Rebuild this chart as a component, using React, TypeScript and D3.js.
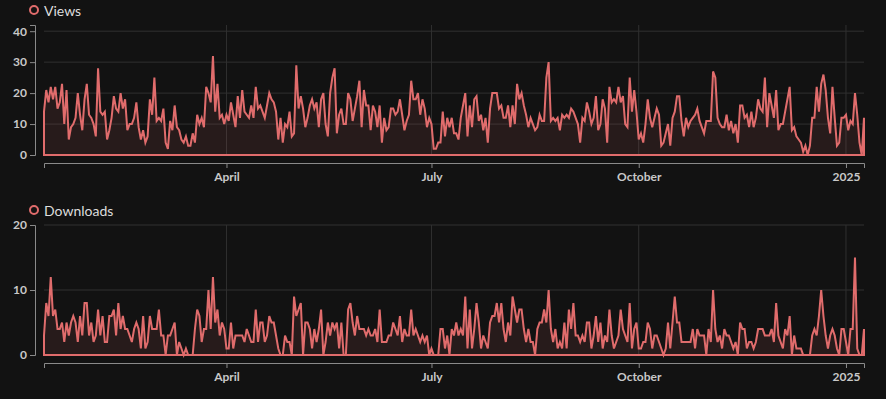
import { useEffect, useRef } from "react";
import * as d3 from "d3";

// daily series, first day 2024-01-11
const startDate = new Date(2024, 0, 11);

const views = [
  14, 21, 17, 22, 18, 22, 15, 17, 23, 10, 21, 5, 9, 10, 12, 20, 13, 8, 18, 23,
  13, 12, 10, 6, 28, 14, 13, 14, 5, 8, 12, 19, 15, 14, 20, 15, 18, 8, 10, 10,
  12, 17, 9, 5, 8, 4, 6, 18, 13, 25, 11, 12, 11, 15, 4, 2, 11, 8, 16, 9,
  8, 5, 4, 6, 3, 3, 7, 4, 13, 10, 12, 9, 22, 20, 17, 32, 14, 23, 12, 13,
  10,
  13, 11, 17, 13, 9, 19, 12, 21, 14, 13, 12, 16, 12, 22, 15, 16, 14, 12, 16, 20,
  18, 17, 14, 5, 12, 4, 10, 9, 14, 6, 7, 29, 15, 19, 15, 9, 12, 16, 18, 15,
  17, 9, 18, 20, 10, 6, 20, 25, 28, 7, 13, 15, 10, 10, 20, 18, 11, 15, 19, 24,
  9, 21, 16, 16, 8, 16, 14, 9, 16, 4, 12, 8, 9, 15, 15, 13, 14, 18, 13, 8,
  11, 13, 24, 18, 18, 20, 13, 18, 15, 9, 12,
  10, 2, 2, 4, 4, 14, 6, 12, 9, 12, 7, 7, 5, 12, 16, 20, 6, 16, 9, 18,
  19, 11, 13, 8, 12, 4, 15, 20, 20, 20, 15, 16, 12, 12, 16, 9, 16, 10, 23, 18,
  20, 16, 13, 9, 12, 10, 8, 9, 13, 11, 11, 25, 30, 11, 12, 11, 12, 8, 13, 12,
  13, 12, 15, 14, 12, 10, 4, 12, 11, 17, 14, 10, 12, 19, 8, 10, 18, 15, 4, 22,
  17, 18, 17, 22, 17, 19, 10, 9, 25, 14, 21, 14, 5,
  7, 4, 10, 18, 12, 9, 12, 15, 13, 3, 4, 7, 10, 3, 12, 14, 19, 19, 11, 6,
  12, 9, 11, 12, 13, 15, 11, 9, 7, 11, 11, 11, 27, 25, 12, 10, 9, 9, 13, 8,
  11, 7, 10, 4, 16, 16, 12, 13, 9, 14, 9, 12, 18, 15, 14, 25, 9, 20, 16, 12,
  21, 8, 10, 10, 14, 18, 22, 8, 9, 6, 5, 4, 1, 3, 0, 3, 12, 12, 22, 14,
  23, 26, 21, 12, 7, 22, 12, 3, 4, 12, 12, 13, 8, 11, 10, 20, 13, 4, 0, 12,
];

const downloads = [
  3, 8, 6, 12, 6, 7, 4, 4, 5, 2, 5, 3, 5, 6, 5, 2, 6, 3, 8, 8,
  3, 5, 2, 3, 7, 3, 6, 2, 2, 6, 6, 7, 3, 8, 4, 6, 4, 4, 3, 2,
  4, 5, 4, 1, 6, 1, 2, 6, 4, 4, 4, 7, 3, 3, 0, 3, 3, 4, 5, 0,
  2, 1, 0, 1, 0, 0, 0, 4, 7, 6, 2, 4, 4, 10, 4, 12, 5, 7, 3, 5,
  4,
  1, 1, 5, 1, 3, 3, 3, 3, 2, 4, 3, 2, 2, 7, 2, 5, 5, 2, 3, 6,
  5, 5, 3, 1, 0, 0, 3, 2, 2, 0, 9, 6, 7, 8, 0, 5, 5, 4, 1, 4,
  2, 4, 7, 0, 2, 5, 3, 5, 4, 5, 1, 5, 0, 0, 7, 8, 5, 3, 6, 4,
  4, 4, 3, 4, 3, 3, 4, 2, 7, 2, 2, 2, 3, 3, 5, 4, 3, 6, 2, 4,
  3, 3, 7, 3, 4, 3, 2, 3, 2, 3, 0,
  1, 0, 0, 0, 4, 4, 1, 3, 0, 4, 3, 5, 3, 4, 3, 9, 1, 7, 1, 4,
  8, 5, 1, 3, 2, 1, 5, 6, 6, 8, 5, 8, 4, 2, 5, 3, 9, 7, 5, 7,
  7, 4, 2, 4, 2, 2, 0, 4, 5, 5, 7, 5, 10, 4, 2, 4, 1, 2, 1, 5,
  1, 7, 4, 8, 3, 3, 2, 3, 2, 5, 5, 1, 3, 6, 2, 5, 1, 3, 2, 7,
  3, 1, 2, 3, 7, 4, 3, 2, 8, 1, 4, 5, 1,
  1, 2, 2, 5, 4, 1, 3, 3, 2, 1, 0, 1, 5, 1, 5, 9, 5, 5, 2, 2,
  2, 2, 2, 4, 1, 4, 3, 3, 3, 0, 4, 2, 10, 4, 2, 3, 1, 4, 3, 3,
  2, 1, 2, 0, 5, 4, 4, 1, 2, 2, 1, 2, 4, 4, 4, 3, 3, 3, 4, 2,
  8, 3, 2, 1, 4, 3, 6, 0, 3, 1, 1, 1, 0, 0, 0, 0, 3, 4, 3, 6,
  10, 6, 3, 1, 3, 4, 3, 1, 0, 4, 4, 2, 0, 4, 4, 15, 1, 0, 0, 4,
];

const viewsTicks = [0, 10, 20, 30, 40];
const downloadsTicks = [0, 10, 20];

const panels = [
  { label: "Views", values: views, ticks: viewsTicks, max: 42 },
  { label: "Downloads", values: downloads, ticks: downloadsTicks, max: 20 },
];

const red = "#e06c6c";
const bg = "#121212";

function App() {
  const ref = useRef<SVGSVGElement>(null);

  useEffect(() => {
    const width = 886;
    const height = 399;
    const left = 44;
    const right = 864;
    const svg = d3.select(ref.current);
    svg.selectAll("*").remove();

    svg.append("rect").attr("width", width).attr("height", height).attr("fill", bg);

    const dates = views.map((_, i) => d3.timeDay.offset(startDate, i));
    const x = d3
      .scaleTime()
      .domain([dates[0], dates[dates.length - 1]])
      .range([left, right]);
    const monthTicks = x.ticks(d3.timeMonth.every(3) as d3.TimeInterval);

    panels.forEach((p, k) => {
      const off = k * 200;
      const top = 25 + off;
      const bottom = 155 + off;
      const g = svg.append("g");

      const y = d3.scaleLinear().domain([0, p.max]).range([bottom, top]);

      // grid
      g.selectAll(".hgrid")
        .data(p.ticks)
        .enter()
        .append("line")
        .attr("x1", left)
        .attr("x2", right)
        .attr("y1", (d) => y(d))
        .attr("y2", (d) => y(d))
        .attr("stroke", "#303030");
      g.selectAll(".vgrid")
        .data(monthTicks)
        .enter()
        .append("line")
        .attr("x1", (d) => x(d))
        .attr("x2", (d) => x(d))
        .attr("y1", top)
        .attr("y2", bottom)
        .attr("stroke", "#303030");

      // y axis
      const ya = g
        .append("g")
        .attr("transform", "translate(35,0)")
        .call(d3.axisLeft(y).tickValues(p.ticks).tickSize(5).tickSizeOuter(5).tickPadding(3));
      ya.selectAll("path, line").attr("stroke", "#8a8a8a");
      ya.selectAll("text")
        .attr("fill", "#c8c8c8")
        .attr("font-family", "Lato")
        .attr("font-size", 12)
        .attr("font-weight", "bold");

      // x axis
      const xa = g
        .append("g")
        .attr("transform", `translate(0,${bottom + 8})`)
        .call(
          d3
            .axisBottom(x)
            .ticks(d3.timeMonth.every(3) as d3.TimeInterval)
            .tickSize(5)
            .tickSizeOuter(5)
            .tickPadding(4)
        );
      xa.selectAll("path, line").attr("stroke", "#8a8a8a");
      xa.selectAll("text")
        .attr("fill", "#c8c8c8")
        .attr("font-family", "Lato")
        .attr("font-size", 12)
        .attr("font-weight", "bold");

      // area + outline
      const area = d3
        .area<number>()
        .x((_, i) => x(dates[i]))
        .y0(bottom)
        .y1((d) => y(d));
      g.append("path")
        .datum(p.values)
        .attr("d", area)
        .attr("fill", "rgba(224,108,108,0.1)")
        .attr("stroke", red)
        .attr("stroke-width", 2);

      // legend
      g.append("circle")
        .attr("cx", 34)
        .attr("cy", 10 + off)
        .attr("r", 4)
        .attr("fill", bg)
        .attr("stroke", red)
        .attr("stroke-width", 2);
      g.append("text")
        .attr("x", 44)
        .attr("y", 10 + off)
        .attr("dominant-baseline", "central")
        .attr("font-family", "Lato")
        .attr("font-size", 14)
        .attr("fill", "#dddddd")
        .text(p.label);
    });
  }, []);

  return (
    <svg
      ref={ref}
      width={886}
      height={399}
      style={{ position: "absolute", left: 0, top: 0, display: "block" }}
    />
  );
}

export default App;
